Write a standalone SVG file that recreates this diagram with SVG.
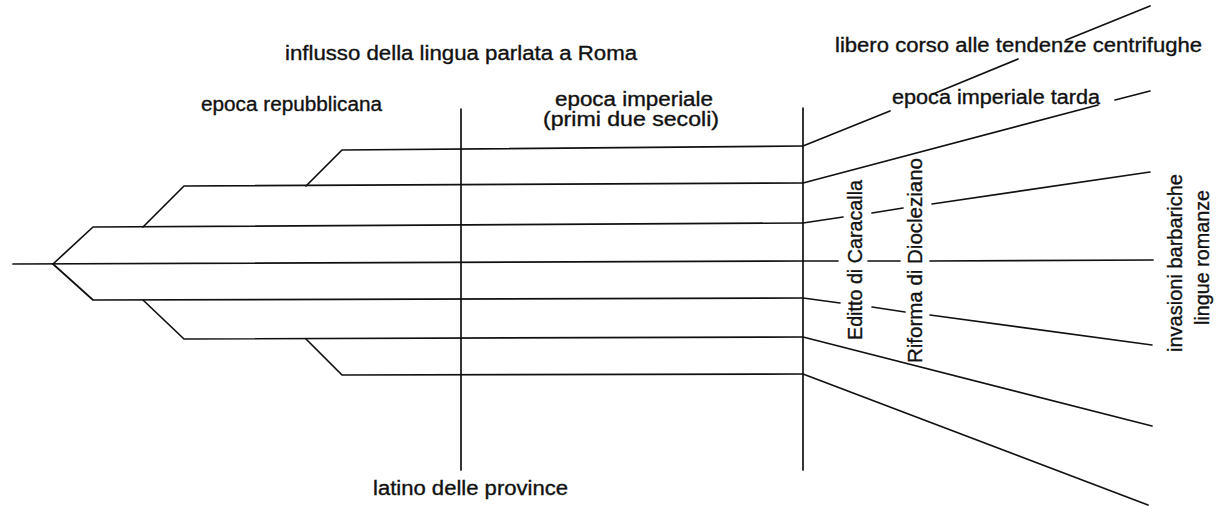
<svg xmlns="http://www.w3.org/2000/svg" width="1218" height="506" viewBox="0 0 1218 506">
<style>
.l{stroke:#111;stroke-width:1.7;fill:none;stroke-linecap:round;stroke-linejoin:round}
.t{font-family:"Liberation Sans",Arial,sans-serif;font-size:20px;fill:#111;stroke:#111;stroke-width:0.35}
</style>
<rect width="1218" height="506" fill="#fff"/>
<g id="connectors" class="l">
<line x1="13" y1="264" x2="803" y2="261"/>
<polyline points="53,264 93,227 803,223"/>
<polyline points="53,264 93,300 803,298"/>
<polyline points="143,227 184,186 803,183"/>
<polyline points="143,300 184,339 803,337"/>
<polyline points="306,186 342,150 803,146"/>
<polyline points="306,339 342,375 803,374"/>
<line x1="461" y1="109" x2="461" y2="470"/>
<line x1="803" y1="108" x2="803" y2="470"/>
<line x1="803" y1="146" x2="890" y2="111"/>
<line x1="933" y1="94" x2="1018" y2="59"/>
<line x1="1066" y1="40" x2="1150" y2="6"/>
<line x1="803" y1="183" x2="1098" y2="105"/>
<line x1="1115" y1="100" x2="1150" y2="91"/>
<line x1="803" y1="223" x2="843" y2="217"/>
<line x1="872" y1="213" x2="903" y2="208"/>
<line x1="932" y1="204" x2="1150" y2="172"/>
<line x1="803" y1="261" x2="838" y2="261"/>
<line x1="868" y1="261" x2="900" y2="261"/>
<line x1="930" y1="261" x2="1153" y2="260"/>
<line x1="803" y1="298" x2="840" y2="303"/>
<line x1="872" y1="307" x2="905" y2="312"/>
<line x1="930" y1="315" x2="1152" y2="345"/>
<line x1="803" y1="337" x2="1152" y2="426"/>
<line x1="803" y1="374" x2="1148" y2="505"/>
</g>
<g id="labels">
<text id="influsso" class="t" x="285" y="60" textLength="352" lengthAdjust="spacingAndGlyphs">influsso della lingua parlata a Roma</text>
<text id="repubblicana" class="t" x="201" y="111" textLength="181" lengthAdjust="spacingAndGlyphs">epoca repubblicana</text>
<text id="imperiale" class="t" x="555" y="106" textLength="158" lengthAdjust="spacingAndGlyphs">epoca imperiale</text>
<text id="secoli" class="t" x="543" y="126" textLength="176" lengthAdjust="spacingAndGlyphs">(primi due secoli)</text>
<text id="province" class="t" x="373" y="495" textLength="195" lengthAdjust="spacingAndGlyphs">latino delle province</text>
<text id="libero" class="t" x="835" y="52" textLength="367" lengthAdjust="spacingAndGlyphs">libero corso alle tendenze centrifughe</text>
<text id="tarda" class="t" x="892" y="104" textLength="208" lengthAdjust="spacingAndGlyphs">epoca imperiale tarda</text>
<text id="caracalla" class="t" transform="translate(862,340) rotate(-90)" textLength="160" lengthAdjust="spacingAndGlyphs">Editto di Caracalla</text>
<text id="diocleziano" class="t" transform="translate(922,363) rotate(-90)" textLength="205" lengthAdjust="spacingAndGlyphs">Riforma di Diocleziano</text>
<text id="invasioni" class="t" transform="translate(1182,352) rotate(-90)" textLength="178" lengthAdjust="spacingAndGlyphs">invasioni barbariche</text>
<text id="romanze" class="t" transform="translate(1209,325) rotate(-90)" textLength="135" lengthAdjust="spacingAndGlyphs">lingue romanze</text>
</g>
</svg>
